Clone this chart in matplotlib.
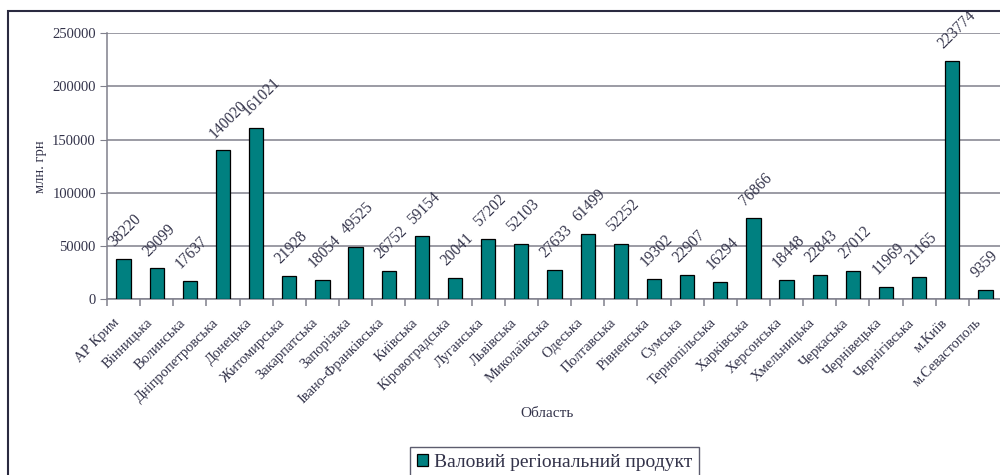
import matplotlib
matplotlib.use("Agg")
import matplotlib.pyplot as plt
from matplotlib.patches import Rectangle, Patch
from matplotlib.transforms import ScaledTranslation
import numpy as np

# ── дані ──────────────────────────────────────────────
regions = [
    "АР Крим", "Вінницька", "Волинська", "Дніпропетровська", "Донецька",
    "Житомирська", "Закарпатська", "Запорізька", "Івано-Франківська",
    "Київська", "Кіровоградська", "Луганська", "Львівська", "Миколаївська",
    "Одеська", "Полтавська", "Рівненська", "Сумська", "Тернопільська",
    "Харківська", "Херсонська", "Хмельницька", "Черкаська", "Чернівецька",
    "Чернігівська", "м.Київ", "м.Севастополь",
]
grp = [
    38220, 29099, 17637, 140020, 161021, 21928, 18054, 49525, 26752,
    59154, 20041, 57202, 52103, 27633, 61499, 52252, 19302, 22907, 16294,
    76866, 18448, 22843, 27012, 11969, 21165, 223774, 9359,
]
yticks = [0, 50000, 100000, 150000, 200000, 250000]

# ── стиль ─────────────────────────────────────────────
TXT = "#33334a"
BAR = "#008080"
GRID = "#80808c"
plt.rcParams["font.family"] = ["Liberation Serif", "DejaVu Serif"]

fig = plt.figure(figsize=(10, 4.75), dpi=100, facecolor="white")
ax = fig.add_axes([0.107, 0.3695, 0.895, 0.5605])

x = np.arange(len(regions))
ax.bar(x, grp, width=0.43, color=BAR, edgecolor="black", linewidth=0.9, zorder=3)

ax.set_xlim(-0.5, len(regions) - 0.5)
ax.set_ylim(0, 250000)
ax.set_yticks(yticks)
ax.set_yticklabels([str(v) for v in yticks], fontsize=10.5, color=TXT)
ax.yaxis.grid(True, color=GRID, linewidth=1.1, zorder=0)
ax.set_axisbelow(True)

for s in ["top", "right"]:
    ax.spines[s].set_visible(False)
for s in ["left", "bottom"]:
    ax.spines[s].set_color(GRID)
    ax.spines[s].set_linewidth(1.1)
ax.tick_params(axis="y", length=5, color=GRID, pad=3)

# мітки категорій по центру, риски на межах
ax.set_xticks(x)
ax.set_xticklabels(regions, rotation=45, ha="right", va="top",
                   rotation_mode="anchor", fontsize=10.5, color=TXT)
ax.tick_params(axis="x", which="major", length=0, pad=12)
shift = ScaledTranslation(-0.11, 0, fig.dpi_scale_trans)
for lab in ax.get_xticklabels():
    lab.set_transform(lab.get_transform() + shift)
ax.set_xticks(np.arange(-0.5, len(regions), 1), minor=True)
ax.tick_params(axis="x", which="minor", length=5, color=GRID, width=1.1)

# підписи значень
for xi, v in zip(x, grp):
    ax.annotate(str(v), (xi, v), xytext=(-6, 9), textcoords="offset pixels",
                rotation=45, rotation_mode="anchor", ha="left", va="bottom",
                fontsize=11.2, color=TXT)

ax.set_ylabel("млн. грн", fontsize=10.5, color=TXT, labelpad=4)
fig.text(0.547, 0.13, "Область", fontsize=11, color=TXT, ha="center", va="center")

# легенда
leg = fig.legend(handles=[Patch(facecolor=BAR, edgecolor="black", linewidth=0.9,
                                label="Валовий регіональний продукт")],
                 loc="upper left", bbox_to_anchor=(0.41, 0.059), borderaxespad=0,
                 frameon=True, fancybox=False, fontsize=14,
                 handlelength=0.6, handleheight=0.6, handletextpad=0.3,
                 borderpad=0.35, labelcolor=TXT)
leg.get_frame().set_edgecolor("#33334a")
leg.get_frame().set_linewidth(1.0)

# рамка діаграми
fig.patches.append(Rectangle((0.0075, -0.05), 1.1, 1.027, transform=fig.transFigure,
                             fill=False, edgecolor="#2a2a40", linewidth=1.5))

fig.savefig("out.png", dpi=100, facecolor="white")
plt.close()
